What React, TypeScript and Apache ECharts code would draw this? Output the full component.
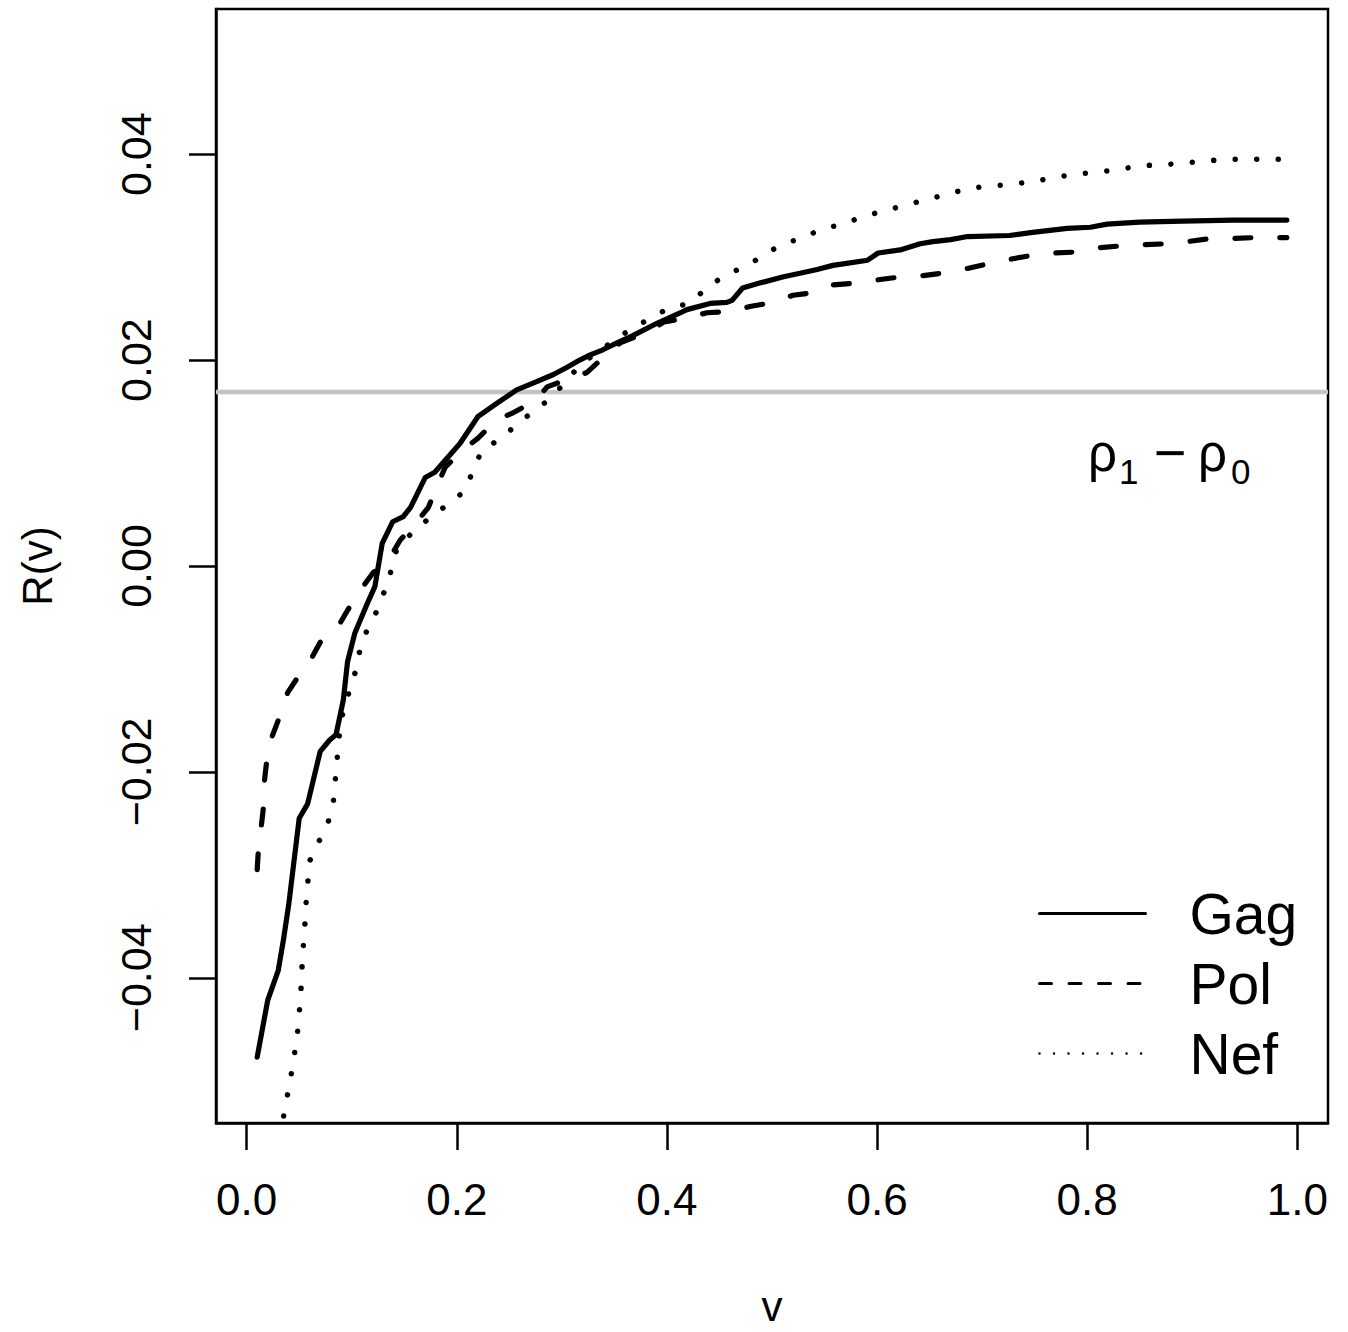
import React, { useEffect, useRef } from "react";
import * as echarts from "echarts";

const FONT = '"Liberation Sans", Arial, Helvetica, sans-serif';

// Gag (solid)
const vGag = [0.010,0.020,0.030,0.035,0.040,0.050,0.058,0.070,0.079,0.085,0.092,0.096,0.103,0.115,0.122,0.129,0.139,0.149,0.156,0.170,0.179,0.203,0.220,0.238,0.257,0.276,0.292,0.305,0.317,0.327,0.339,0.353,0.368,0.391,0.413,0.419,0.441,0.457,0.462,0.472,0.489,0.511,0.530,0.543,0.558,0.571,0.591,0.601,0.622,0.641,0.653,0.670,0.686,0.726,0.748,0.781,0.803,0.819,0.850,0.891,0.939,0.990];
const rGag = [-0.0477,-0.0422,-0.0393,-0.0363,-0.0329,-0.0245,-0.0231,-0.0180,-0.0169,-0.0164,-0.0130,-0.0093,-0.0065,-0.0036,-0.0020,0.0022,0.0043,0.0048,0.0057,0.0086,0.0091,0.0119,0.0145,0.0158,0.0171,0.0179,0.0186,0.0193,0.0200,0.0205,0.0210,0.0217,0.0224,0.0236,0.0246,0.0249,0.0255,0.0256,0.0258,0.0270,0.0275,0.0281,0.0285,0.0288,0.0292,0.0294,0.0297,0.0304,0.0307,0.0313,0.0315,0.0317,0.0320,0.0321,0.0324,0.0328,0.0329,0.0332,0.0334,0.0335,0.0336,0.0336];

// Pol (dashed)
const vPol = [0.010,0.011,0.014,0.016,0.017,0.019,0.024,0.030,0.039,0.048,0.062,0.070,0.087,0.096,0.110,0.120,0.138,0.146,0.162,0.173,0.183,0.189,0.206,0.220,0.238,0.254,0.275,0.286,0.310,0.324,0.344,0.356,0.381,0.397,0.420,0.438,0.460,0.479,0.501,0.520,0.543,0.558,0.582,0.601,0.624,0.644,0.666,0.686,0.708,0.727,0.749,0.768,0.791,0.810,0.833,0.853,0.876,0.895,0.917,0.937,0.960,0.981,0.990];
const rPol = [-0.0295,-0.0278,-0.0252,-0.0234,-0.0208,-0.0190,-0.0166,-0.0150,-0.0123,-0.0109,-0.0089,-0.0074,-0.0059,-0.0043,-0.0021,-0.0007,0.0011,0.0025,0.0043,0.0057,0.0082,0.0096,0.0113,0.0124,0.0142,0.0149,0.0161,0.0174,0.0183,0.0188,0.0207,0.0217,0.0227,0.0237,0.0241,0.0246,0.0247,0.0252,0.0256,0.0263,0.0266,0.0273,0.0275,0.0278,0.0281,0.0282,0.0285,0.0289,0.0294,0.0298,0.0302,0.0304,0.0305,0.0309,0.0311,0.0312,0.0313,0.0315,0.0318,0.0318,0.0319,0.0319,0.0319];

// Nef (dotted)
const vNef = [0.033,0.0362,0.0409,0.0438,0.0476,0.0495,0.0514,0.0523,0.0533,0.0552,0.0561,0.0580,0.0593,0.0669,0.0764,0.0822,0.0841,0.0860,0.0879,0.0907,0.0964,0.1031,0.1075,0.1142,0.1237,0.1313,0.1380,0.1427,0.1579,0.1745,0.1917,0.2078,0.2155,0.2241,0.2412,0.2565,0.2727,0.2870,0.3020,0.3154,0.330,0.347,0.364,0.383,0.401,0.421,0.437,0.453,0.472,0.490,0.508,0.527,0.547,0.567,0.586,0.606,0.626,0.647,0.667,0.688,0.709,0.730,0.752,0.772,0.793,0.814,0.834,0.855,0.876,0.898,0.919,0.940,0.961,0.990];
const rNef = [-0.0555,-0.0525,-0.0505,-0.0483,-0.0462,-0.0440,-0.0418,-0.0397,-0.0376,-0.0353,-0.0332,-0.0311,-0.0288,-0.0271,-0.0253,-0.0232,-0.0211,-0.0188,-0.0167,-0.0146,-0.0126,-0.0104,-0.0083,-0.0063,-0.0044,-0.0024,-0.0003,0.0016,0.0033,0.0047,0.0060,0.0073,0.0093,0.0113,0.0123,0.0137,0.0150,0.0161,0.0177,0.0193,0.0205,0.0217,0.0229,0.0240,0.0250,0.0255,0.0269,0.0281,0.0290,0.0300,0.0312,0.0318,0.0327,0.0332,0.0339,0.0345,0.0350,0.0356,0.0361,0.0367,0.0369,0.0371,0.0374,0.0378,0.0381,0.0383,0.0386,0.0389,0.0390,0.0392,0.0394,0.0395,0.0395,0.0395];

const refValue = 0.0169; // rho1 - rho0
const xRange = [-0.0292, 1.0292];
const yRange = [-0.0541, 0.0541];
const xTicks = [0, 0.2, 0.4, 0.6, 0.8, 1.0];
const yTicks = [-0.04, -0.02, 0, 0.02, 0.04];
const seriesNames = ["Gag", "Pol", "Nef"];

const pairs = (xs: number[], ys: number[]) => xs.map((x, i) => [x, ys[i]]);

export default function App() {
  const ref = useRef<HTMLDivElement>(null);
  useEffect(() => {
    document.body.style.margin = "0";
    const chart = echarts.init(ref.current!, null, { renderer: "svg" });
    const axisLineStyle = { color: "#000", width: 2.5 };
    const option: any = {
      animation: false,
      backgroundColor: "#fff",
      textStyle: { fontFamily: FONT },
      grid: {
        left: 216, top: 9, width: 1112, height: 1114,
        show: true, borderColor: "#000", borderWidth: 2.5, backgroundColor: "transparent",
      },
      xAxis: {
        type: "value", min: xRange[0], max: xRange[1],
        name: "v", nameLocation: "middle", nameGap: 162,
        nameTextStyle: { fontSize: 42, color: "#000", fontFamily: FONT },
        axisLine: { show: true, onZero: false, lineStyle: axisLineStyle },
        axisTick: { show: true, customValues: xTicks, length: 27, lineStyle: axisLineStyle },
        axisLabel: {
          customValues: xTicks, fontSize: 44, color: "#000", margin: 54, fontFamily: FONT,
          formatter: (v: number) => v.toFixed(1),
        },
        splitLine: { show: false },
      },
      yAxis: {
        type: "value", min: yRange[0], max: yRange[1],
        name: "R(v)", nameLocation: "middle", nameGap: 158, nameRotate: 90,
        nameTextStyle: { fontSize: 42, color: "#000", fontFamily: FONT },
        axisLine: { show: true, onZero: false, lineStyle: axisLineStyle },
        axisTick: { show: true, customValues: yTicks, length: 27, lineStyle: axisLineStyle },
        axisLabel: {
          customValues: yTicks, fontSize: 43, color: "#000", margin: 59, rotate: 90, fontFamily: FONT,
          formatter: (v: number) => (v < -1e-9 ? "\u2212" : "") + Math.abs(v).toFixed(2),
        },
        splitLine: { show: false },
      },
      legend: {
        orient: "vertical", left: 1033, top: 880,
        itemWidth: 106, itemHeight: 20, itemGap: 13,
        selectedMode: false,
        itemStyle: { color: "rgba(0,0,0,0)", borderWidth: 0, opacity: 0 },
        textStyle: { fontSize: 57, color: "#000", fontFamily: FONT, padding: [12, 0, 0, 39] },
        data: [
          { name: seriesNames[0], lineStyle: { width: 3, type: "solid", color: "#000" } },
          { name: seriesNames[1], lineStyle: { width: 3, type: [12, 17.5], color: "#000" } },
          { name: seriesNames[2], lineStyle: { width: 2.5, type: [0.01, 14.5], cap: "round", color: "#000" } },
        ],
      },
      series: [
        {
          name: "ref", type: "line", data: [[xRange[0], refValue], [xRange[1], refValue]],
          symbol: "none", silent: true, z: 1,
          lineStyle: { color: "#c4c4c4", width: 4.5, type: "solid" },
        },
        {
          name: seriesNames[0], type: "line", data: pairs(vGag, rGag), symbol: "none", z: 3, silent: true,
          lineStyle: { color: "#000", width: 5.2, type: "solid", cap: "round", join: "round" },
        },
        {
          name: seriesNames[1], type: "line", data: pairs(vPol, rPol), symbol: "none", z: 3, silent: true,
          lineStyle: { color: "#000", width: 5.2, type: [16, 29], cap: "round", join: "round" },
        },
        {
          name: seriesNames[2], type: "line", data: pairs(vNef, rNef), symbol: "none", z: 3, silent: true,
          lineStyle: { color: "#000", width: 5.5, type: [0.01, 21.5], cap: "round", join: "round" },
        },
      ],
      graphic: [
        { type: "text", x: 1088, y: 453, style: { text: "ρ", font: `51px ${FONT}`, fill: "#000", textAlign: "left", textVerticalAlign: "middle" } },
        { type: "text", x: 1119, y: 471, style: { text: "1", font: `35px ${FONT}`, fill: "#000", textAlign: "left", textVerticalAlign: "middle" } },
        { type: "text", x: 1170, y: 452, style: { text: "\u2212", font: `56px ${FONT}`, fill: "#000", textAlign: "center", textVerticalAlign: "middle" } },
        { type: "text", x: 1198, y: 453, style: { text: "ρ", font: `51px ${FONT}`, fill: "#000", textAlign: "left", textVerticalAlign: "middle" } },
        { type: "text", x: 1231, y: 471, style: { text: "0", font: `35px ${FONT}`, fill: "#000", textAlign: "left", textVerticalAlign: "middle" } },
      ],
    };
    chart.setOption(option);
    return () => chart.dispose();
  }, []);
  return <div ref={ref} style={{ width: 1348, height: 1332 }} />;
}
